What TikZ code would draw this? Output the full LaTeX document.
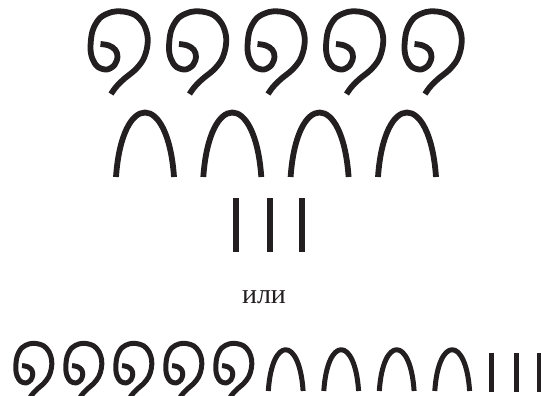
\documentclass[tikz,border=0pt]{standalone}
\usepackage{fontspec}
\setmainfont{Liberation Serif}
\definecolor{GlyphInk}{HTML}{231F20}
\tikzset{
  glyph/.style={GlyphInk,line cap=butt,line join=round},
  curl/.pic={
    \draw[glyph] plot[smooth,tension=0.55] coordinates {
      (15.5,44) (24,45.5) (30.5,50) (32.5,57) (29.5,65) (22,69.5)
      (13,67) (7.5,59) (5.5,48) (7.5,31) (15,18) (27,12) (38,11.5)
      (50,15) (58.5,24) (62.5,36) (62,48) (58,60) (50,70) (39,79)
      (31,87) (26,94)};
  },
  arch/.pic={
    \draw[glyph] (0,0) .. controls (6,-86) and (52,-86) .. (58,0);
  }
}

\begin{document}
\begin{tikzpicture}[x=1pt,y=-1pt,line width=5.8pt]
\clip (0,0) rectangle (541,396);
% upper block
\foreach \x in {85,163.5,242,320.5,399} \pic at (\x,0) {curl};
\foreach \x in {116,203.3,290.6,378} \pic at (\x,177) {arch};
\foreach \x in {236.2,270.3,301.7} \draw[glyph] (\x,198.3) -- (\x,252.3);
\node[GlyphInk,anchor=base,inner sep=0pt,font=\fontsize{28}{30}\selectfont] (ili) at (264,303) {или};
% lower line
\foreach \x in {12.3,62.3,112.3,162.3,212.3}
  \pic[xscale=0.63,yscale=0.68,line width=5pt] at (\x,335.7) {curl};
\foreach \x in {268.3,323.8,379.3,434.8}
  \pic[xscale=0.6,yscale=0.64,line width=5pt] at (\x,391) {arch};
\foreach \x in {491.7,516.7,539} \draw[glyph,line width=5pt] (\x,352.7) -- (\x,391.7);
\end{tikzpicture}
\end{document}
